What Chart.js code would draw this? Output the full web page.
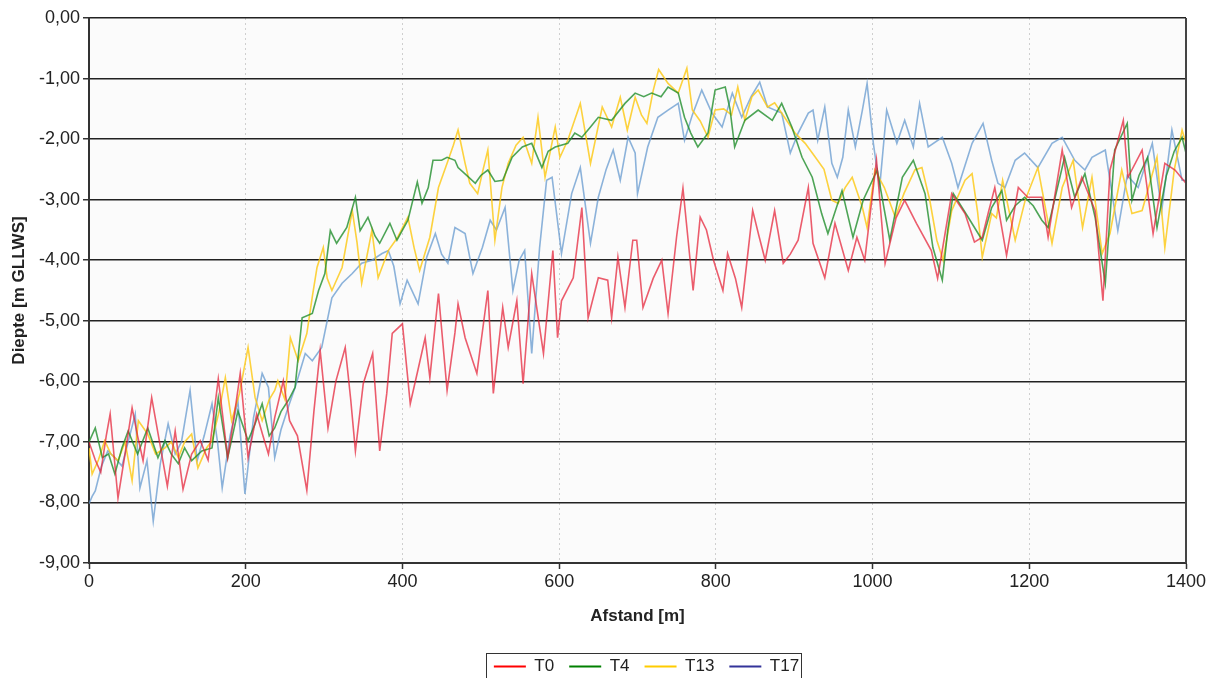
<!DOCTYPE html>
<html><head><meta charset="utf-8">
<script src="https://cdn.jsdelivr.net/npm/chart.js@4/dist/chart.umd.min.js"></script>
<style>
html,body{margin:0;padding:0;background:#fff;overflow:hidden;width:1206px;height:678px}
#wrap{position:relative;width:1206px;height:685px}
</style></head>
<body><div id="wrap"><canvas id="c" width="1206" height="685"></canvas></div>
<script>
// ---- data (distance in m, depth in m GLLWS) ----
const seriesNames = ['T0','T4','T13','T17'];
const xTicks = [0,200,400,600,800,1000,1200,1400];
const yTicks = [0,-1,-2,-3,-4,-5,-6,-7,-8,-9];

const t0Dist = [0,8,15,22,27,37,46,55,62,69,80,90,100,110,120,131,142,152,165,177,185,193,203,214,222,229,237,248,256,266,278,287,295,305,315,327,334,340,350,362,371,380,387,400,410,420,429,435,446,457,467,471,480,495,509,516,528,535,546,554,565,580,592,598,603,618,629,637,650,662,667,675,684,694,699,707,720,731,739,750,758,771,780,788,797,809,815,825,833,847,855,863,875,886,895,905,918,924,939,952,969,980,990,1005,1016,1030,1041,1056,1075,1083,1092,1101,1118,1130,1140,1148,1156,1171,1186,1198,1216,1224,1242,1254,1267,1284,1294,1303,1320,1326,1344,1358,1373,1386,1400];
const t0Depth = [-7.0,-7.3,-7.5,-6.9,-6.54,-7.93,-7.2,-6.44,-6.9,-7.31,-6.27,-7.0,-7.73,-6.82,-7.78,-7.2,-6.98,-7.3,-5.96,-7.26,-6.6,-5.87,-7.26,-6.54,-6.9,-7.2,-6.6,-5.99,-6.65,-6.9,-7.8,-6.5,-5.49,-6.77,-6.0,-5.44,-6.3,-7.15,-6.04,-5.54,-7.15,-6.2,-5.21,-5.05,-6.37,-5.8,-5.28,-5.94,-4.55,-6.15,-5.2,-4.72,-5.28,-5.87,-4.5,-6.2,-4.78,-5.44,-4.67,-6.04,-4.22,-5.54,-3.84,-5.28,-4.67,-4.29,-3.13,-4.95,-4.29,-4.33,-4.95,-3.95,-4.78,-3.67,-3.67,-4.78,-4.3,-4.0,-4.88,-3.6,-2.81,-4.5,-3.29,-3.5,-4.0,-4.5,-3.89,-4.3,-4.78,-3.18,-3.6,-4.0,-3.18,-4.05,-3.9,-3.67,-2.8,-3.72,-4.29,-3.39,-4.17,-3.62,-4.0,-2.35,-4.05,-3.3,-3.01,-3.39,-3.84,-4.3,-3.6,-2.9,-3.23,-3.7,-3.62,-3.2,-2.8,-3.92,-2.8,-2.96,-2.96,-3.62,-2.18,-3.13,-2.63,-3.18,-4.67,-2.51,-1.69,-2.63,-2.18,-3.56,-2.4,-2.51,-2.73];

const t4Dist = [0,8,17,25,33,42,50,62,75,88,97,105,114,122,131,144,157,165,177,190,203,212,221,230,237,245,255,263,272,285,293,301,308,316,329,340,346,356,365,371,384,393,407,419,425,433,439,450,457,467,471,482,493,500,509,518,528,540,553,565,578,586,595,611,620,629,640,650,667,684,697,708,718,730,739,752,760,768,777,790,799,812,818,824,837,854,872,884,897,910,923,935,943,961,975,988,1006,1014,1022,1038,1052,1067,1077,1089,1096,1103,1122,1140,1152,1165,1171,1182,1194,1205,1216,1224,1245,1258,1271,1284,1297,1309,1325,1331,1340,1351,1363,1375,1385,1395,1400];
const t4Depth = [-7.0,-6.77,-7.26,-7.2,-7.53,-7.1,-6.82,-7.2,-6.77,-7.26,-6.98,-7.2,-7.36,-7.1,-7.31,-7.15,-7.1,-6.27,-7.26,-6.49,-6.98,-6.7,-6.37,-6.9,-6.77,-6.5,-6.3,-6.1,-4.95,-4.88,-4.5,-4.22,-3.51,-3.72,-3.46,-2.96,-3.51,-3.29,-3.6,-3.72,-3.39,-3.67,-3.34,-2.71,-3.06,-2.8,-2.35,-2.35,-2.3,-2.35,-2.47,-2.6,-2.73,-2.6,-2.51,-2.7,-2.68,-2.3,-2.13,-2.07,-2.47,-2.2,-2.13,-2.07,-1.9,-1.97,-1.8,-1.64,-1.69,-1.41,-1.24,-1.3,-1.24,-1.3,-1.14,-1.24,-1.64,-1.9,-2.13,-1.9,-1.19,-1.14,-1.5,-2.13,-1.69,-1.52,-1.69,-1.41,-1.8,-2.3,-2.63,-3.23,-3.56,-2.85,-3.62,-3.01,-2.51,-3.1,-3.67,-2.63,-2.35,-2.9,-3.79,-4.33,-3.5,-2.9,-3.29,-3.67,-3.13,-2.85,-3.34,-3.1,-2.96,-3.1,-3.34,-3.46,-2.3,-2.96,-2.57,-3.29,-4.38,-2.18,-1.74,-3.01,-2.6,-2.3,-3.46,-2.6,-2.2,-1.97,-2.23];

const t13Dist = [0,4,12,20,28,37,46,55,63,75,85,97,105,114,122,131,139,150,157,166,174,182,192,203,212,221,230,237,241,250,257,267,278,285,291,299,304,310,323,336,342,348,361,369,382,394,407,415,422,435,446,457,465,471,480,486,496,503,509,518,527,535,545,554,565,573,582,595,601,611,627,640,655,667,678,687,697,705,712,720,727,739,752,763,770,780,790,799,810,820,828,837,846,854,866,875,884,901,914,927,938,948,956,965,974,987,993,1003,1015,1029,1040,1054,1063,1073,1082,1090,1101,1118,1127,1134,1140,1152,1158,1166,1182,1195,1211,1229,1242,1256,1268,1280,1293,1303,1318,1331,1344,1363,1373,1385,1395,1400];
const t13Depth = [-7.1,-7.53,-7.3,-6.98,-7.2,-7.31,-7.0,-7.64,-6.65,-6.87,-7.2,-7.1,-7.0,-7.26,-7.0,-6.87,-7.43,-7.1,-6.98,-6.5,-5.94,-6.65,-6.2,-5.44,-6.27,-6.65,-6.3,-6.15,-5.99,-6.3,-5.28,-5.66,-5.21,-4.6,-4.12,-3.79,-4.3,-4.5,-4.12,-3.18,-3.7,-4.38,-3.51,-4.29,-3.84,-3.62,-3.29,-3.8,-4.17,-3.62,-2.8,-2.4,-2.1,-1.85,-2.4,-2.73,-2.9,-2.5,-2.18,-3.67,-2.8,-2.4,-2.1,-1.97,-2.4,-1.64,-2.63,-1.8,-2.3,-2.02,-1.41,-2.4,-1.47,-1.8,-1.31,-1.85,-1.31,-1.6,-1.74,-1.2,-0.85,-1.08,-1.24,-0.83,-1.52,-1.7,-1.97,-1.52,-1.5,-1.6,-1.14,-1.69,-1.3,-1.19,-1.47,-1.4,-1.57,-1.9,-2.07,-2.3,-2.5,-3.01,-3.06,-2.8,-2.63,-3.13,-3.46,-2.51,-2.8,-3.29,-2.9,-2.51,-2.47,-3.01,-3.67,-4.0,-3.18,-2.68,-2.57,-3.2,-3.95,-3.23,-3.3,-2.68,-3.67,-3.0,-2.47,-3.72,-2.8,-2.35,-3.46,-2.63,-3.89,-3.56,-2.51,-3.23,-3.18,-2.3,-3.79,-2.51,-1.85,-2.07];

const t17Dist = [0,4,8,16,24,33,42,50,59,65,74,82,91,101,110,118,129,138,147,157,164,170,180,190,199,210,221,229,237,245,255,263,276,285,297,310,323,336,348,361,374,382,389,397,406,420,431,442,450,458,467,480,490,502,512,520,531,541,549,556,565,575,584,591,603,616,627,640,650,660,669,678,688,697,700,713,726,739,752,760,770,782,795,808,821,833,845,856,866,884,895,905,918,924,930,939,948,955,962,969,978,987,993,1001,1009,1018,1031,1041,1052,1060,1071,1089,1101,1109,1127,1141,1152,1160,1169,1182,1194,1211,1229,1242,1258,1271,1280,1297,1313,1325,1339,1357,1369,1382,1395,1400];
const t17Depth = [-8.02,-7.9,-7.81,-7.4,-7.15,-7.26,-7.4,-7.0,-6.54,-7.76,-7.31,-8.31,-7.36,-6.7,-7.2,-7.0,-6.15,-7.31,-6.9,-6.37,-7.0,-7.76,-6.9,-6.32,-7.86,-6.6,-5.87,-6.1,-7.26,-6.8,-6.4,-6.1,-5.54,-5.66,-5.44,-4.62,-4.38,-4.22,-4.05,-4.0,-3.89,-3.84,-4.1,-4.72,-4.33,-4.72,-3.95,-3.56,-3.9,-4.05,-3.46,-3.56,-4.22,-3.79,-3.34,-3.5,-3.13,-4.5,-4.0,-3.84,-5.54,-3.8,-2.68,-2.63,-3.89,-2.9,-2.47,-3.72,-2.96,-2.5,-2.18,-2.68,-1.97,-2.23,-2.9,-2.13,-1.64,-1.52,-1.41,-2.02,-1.6,-1.19,-1.57,-1.8,-1.24,-1.64,-1.3,-1.06,-1.47,-1.57,-2.23,-1.9,-1.57,-1.52,-2.02,-1.47,-2.4,-2.63,-2.3,-1.52,-2.13,-1.52,-1.08,-2.07,-2.8,-1.52,-2.07,-1.69,-2.13,-1.41,-2.13,-1.97,-2.4,-2.8,-2.07,-1.74,-2.35,-2.73,-2.8,-2.35,-2.23,-2.47,-2.07,-1.97,-2.35,-2.51,-2.3,-2.18,-3.51,-2.6,-2.8,-2.07,-3.18,-1.85,-2.68,-2.68];

// ---- styles ----
const FONT = "'Liberation Sans', Arial, sans-serif";
const lineColors = ['rgba(228,30,52,0.72)','rgba(28,140,40,0.78)','rgba(252,200,20,0.82)','rgba(95,150,205,0.72)'];
const legendColors = ['#ff0000','#008000','#ffcc00','#333399'];
const LEGEND_SHIFT = 9;

const pts = (xs, ys) => xs.map((x, i) => ({x: x, y: ys[i]}));
const dists = [t0Dist, t4Dist, t13Dist, t17Dist];
const depths = [t0Depth, t4Depth, t13Depth, t17Depth];

const bgPlugin = {
  id: 'bg',
  beforeDraw(chart) {
    const {ctx, chartArea: a} = chart;
    ctx.save();
    ctx.fillStyle = '#fbfbfb';
    ctx.fillRect(a.left, a.top, a.right - a.left, a.bottom - a.top);
    ctx.restore();
    const lg = chart.legend;
    if (lg && !lg._shifted) { lg.left += LEGEND_SHIFT; lg.right += LEGEND_SHIFT; lg._shifted = true; }
  },
  afterDraw(chart) {
    const {ctx, chartArea: a} = chart;
    ctx.save();
    ctx.strokeStyle = '#444';
    ctx.lineWidth = 2;
    ctx.beginPath();
    ctx.moveTo(a.right, a.top);
    ctx.lineTo(a.right, a.bottom);
    ctx.stroke();
    const lg = chart.legend;
    if (lg && lg.legendHitBoxes && lg.legendHitBoxes.length) {
      const hb = lg.legendHitBoxes;
      const l = hb[0].left - 8 + LEGEND_SHIFT;
      const r = hb[hb.length - 1].left + hb[hb.length - 1].width + 2 + LEGEND_SHIFT;
      const cy = hb[0].top + hb[0].height / 2;
      ctx.strokeStyle = '#333';
      ctx.lineWidth = 1;
      ctx.strokeRect(Math.round(l) + 0.5, Math.round(cy - 14) + 0.5, Math.round(r - l), 40);
    }
    ctx.restore();
  }
};

new Chart(document.getElementById('c'), {
  type: 'line',
  data: {
    datasets: seriesNames.map((n, i) => ({
      label: n,
      data: pts(dists[i], depths[i]),
      borderColor: lineColors[i],
      backgroundColor: lineColors[i],
      borderWidth: 1.6,
      pointRadius: 0,
      tension: 0,
      fill: false
    }))
  },
  options: {
    responsive: false,
    animation: false,
    devicePixelRatio: 1,
    layout: {padding: {top: 18, right: 20, left: 0, bottom: 0}},
    plugins: {
      tooltip: {enabled: false},
      legend: {
        position: 'bottom',
        fullSize: false,
        labels: {
          boxWidth: 32, boxHeight: 2, padding: 15,
          color: '#222',
          font: {family: FONT, size: 17},
          generateLabels: (chart) => chart.data.datasets.map((ds, i) => ({
            text: ds.label, fillStyle: legendColors[i], strokeStyle: legendColors[i],
            lineWidth: 0, hidden: false, datasetIndex: i, fontColor: '#222'
          }))
        }
      }
    },
    scales: {
      x: {
        type: 'linear', min: 0, max: 1400,
        afterBuildTicks: (s) => { s.ticks = xTicks.map(v => ({value: v})); },
        ticks: {color: '#222', font: {family: FONT, size: 18}, padding: 2, maxRotation: 0, autoSkip: false,
          callback: (v) => String(v)},
        grid: {
          color: (c) => (c.tick && (c.tick.value === 0 || c.tick.value === 1400)) ? 'rgba(0,0,0,0)' : '#cfcfcf',
          lineWidth: 1, tickLength: 6, tickColor: '#333', tickWidth: 1.5
        },
        border: {display: true, color: '#333', width: 2, dash: [2, 3]},
        title: {display: true, text: 'Afstand [m]', color: '#222', font: {family: FONT, size: 17, weight: 'bold'}, padding: {top: 8, bottom: 16}},
        afterFit: (s) => { s.height = 80; s.paddingRight = 0; s.paddingLeft = 0; }
      },
      y: {
        min: -9, max: 0,
        afterBuildTicks: (s) => { s.ticks = yTicks.map(v => ({value: v})); },
        ticks: {color: '#222', font: {family: FONT, size: 18}, padding: 3,
          callback: (v) => Number(v).toFixed(2).replace('.', ',')},
        grid: {color: '#222', lineWidth: 1.5, tickLength: 6, tickColor: '#333'},
        border: {display: true, color: '#333', width: 2},
        title: {display: true, text: 'Diepte [m GLLWS]', color: '#222', font: {family: FONT, size: 17, weight: 'bold'}, padding: {top: 9, bottom: 0}},
        afterFit: (s) => { s.width = 89; }
      }
    }
  },
  plugins: [bgPlugin]
});
</script>
</body></html>
